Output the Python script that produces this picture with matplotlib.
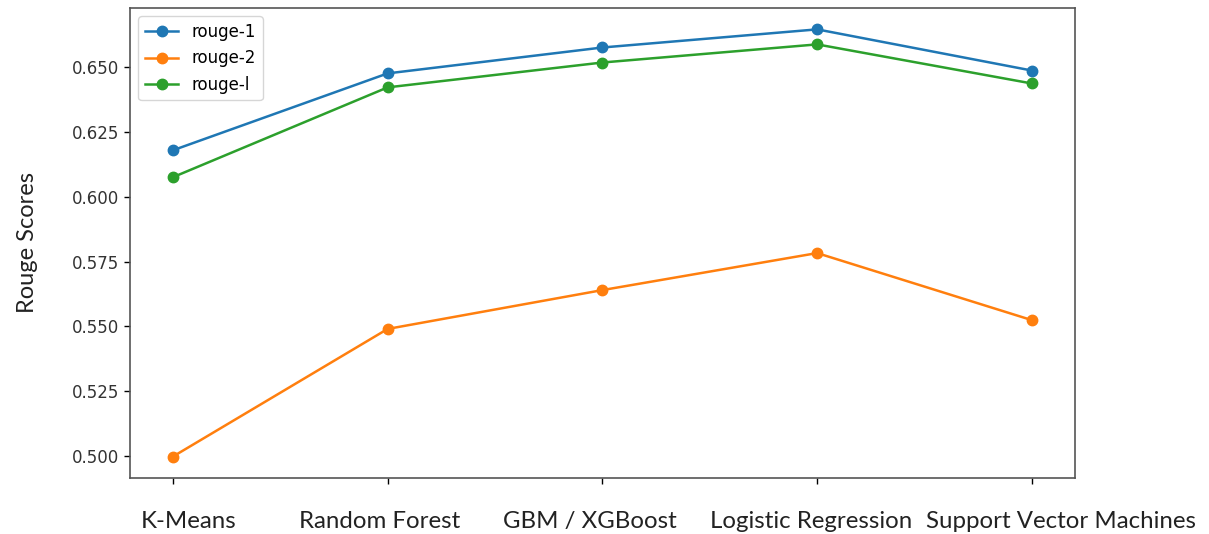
import matplotlib.pyplot as plt
from matplotlib.transforms import ScaledTranslation

models = ['K-Means', 'Random Forest', 'GBM / XGBoost', 'Logistic Regression', 'Support Vector Machines']
rouge_1 = [0.618, 0.6477, 0.6577, 0.6647, 0.6488]
rouge_2 = [0.4997, 0.549, 0.564, 0.5783, 0.5524]
rouge_l = [0.6076, 0.6423, 0.6519, 0.6589, 0.6438]

fig = plt.figure(figsize=(12.09, 5.34), dpi=100)
ax = fig.add_axes([0.1075, 0.105, 0.7815, 0.88])

x = range(len(models))
for vals, name in [(rouge_1, 'rouge-1'), (rouge_2, 'rouge-2'), (rouge_l, 'rouge-l')]:
    ax.plot(x, vals, marker='o', markersize=7.5, linewidth=1.8, label=name)

ax.set_xticks(list(x))
ax.set_xticklabels(models, fontsize=17.3, family='Lato', color='#222222')
ax.tick_params(axis='x', pad=19, length=4.5, width=1.0)
ax.tick_params(axis='y', labelsize=12, labelcolor='#333333', length=4.5, width=1.0)
for s in ax.spines.values():
    s.set_color('#555555')
    s.set_linewidth(1.2)

# nudge the long category names apart so they don't collide
shifts = [16, -8, -13, -6, 29]
for lbl, dx in zip(ax.get_xticklabels(), shifts):
    lbl.set_transform(lbl.get_transform() + ScaledTranslation(dx / 100, 0, fig.dpi_scale_trans))

ax.set_ylabel('Rouge Scores', fontsize=17, family='Lato', color='#222222', labelpad=24)
ax.legend(loc='upper left', fontsize=12)

fig.savefig('out.png', dpi=100)
